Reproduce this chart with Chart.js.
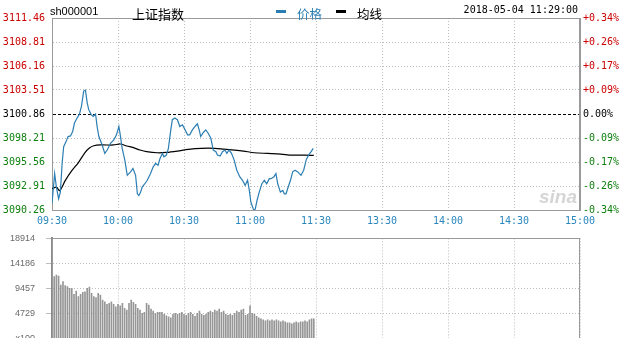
<!DOCTYPE html>
<html>
<head>
<meta charset="utf-8">
<script src="https://cdn.jsdelivr.net/npm/chart.js@4.4.1/dist/chart.umd.min.js"></script>
<style>
  html, body { margin: 0; padding: 0; background: #fff; }
  #wrap { position: relative; width: 626px; height: 338px; overflow: hidden; background: #fff; }
  #wrap canvas { position: absolute; left: 0; }
  #price { top: 0; }
  #vol { top: 222px; }
  .hd { position: absolute; white-space: nowrap; height: 14px; line-height: 14px; }
  .dash { position: absolute; height: 3px; width: 10px; }
</style>
</head>
<body>
<div id="wrap">
  <canvas id="price" width="626" height="232" style="width:626px;height:232px"></canvas>
  <canvas id="vol" width="626" height="133" style="width:626px;height:133px"></canvas>

  <div class="hd" style="left:50px;top:5px;font:11px 'Liberation Sans',Arial,sans-serif;color:#000">sh000001</div>
  <div class="hd" style="left:132px;top:4px;font:13px 'Noto Sans CJK SC',sans-serif;color:#000">上证指数</div>
  <div class="dash" style="left:276px;top:10px;background:#2b7eb3"></div>
  <div class="hd" style="left:297px;top:4px;font:12.5px 'Noto Sans CJK SC',sans-serif;color:#2b7eb3">价格</div>
  <div class="dash" style="left:336px;top:10px;background:#000"></div>
  <div class="hd" style="left:357px;top:4px;font:12.5px 'Noto Sans CJK SC',sans-serif;color:#000">均线</div>
  <div class="hd" style="right:48px;top:4px;font:10px 'DejaVu Sans Mono',monospace;color:#000">2018-05-04 11:29:00</div>
</div>

<script>
// Session axis: minutes of trading since 09:30 (lunch break removed), 0..240
const timeLabels = ['09:30', '10:00', '10:30', '11:00', '11:30', '13:30', '14:00', '14:30', '15:00'];

// Index level scale (previous close in the middle) and the matching % change labels
const prevClose = 3100.86;
const priceTicks = [3090.26, 3092.91, 3095.56, 3098.21, 3100.86, 3103.51, 3106.16, 3108.81, 3111.46];
const pctLabels = ['-0.34%', '-0.26%', '-0.17%', '-0.09%', '0.00%', '+0.09%', '+0.17%', '+0.26%', '+0.34%'];

// Intraday index level
const priceMinutes = [
  0, 1.2, 2.0, 3.0, 3.8, 4.6, 5.3, 6.4, 7.3, 8.4,
  9.4, 10.2, 11.4, 12.5, 13.4, 14.4, 15.2, 16.0, 16.7, 17.8,
  18.7, 19.8, 20.5, 21.3, 22.8, 24.0, 25.1, 26.6, 28.1, 29.3,
  30.4, 30.9, 31.9, 33.1, 34.2, 35.7, 36.8, 38.0, 38.8, 39.5,
  40.3, 41.0, 42.2, 43.3, 44.8, 46.0, 47.1, 48.2, 49.1, 50.2,
  50.9, 52.0, 52.9, 54.0, 54.7, 55.8, 57.0, 58.1, 59.3, 60.5,
  61.6, 62.6, 63.8, 65.0, 66.1, 66.9, 67.6, 68.8, 69.9, 71.0,
  72.2, 73.3, 74.5, 75.2, 76.4, 77.5, 78.6, 79.5, 80.5, 81.6,
  82.8, 84.0, 85.4, 86.6, 87.8, 88.9, 89.7, 90.4, 91.5, 91.9,
  92.4, 93.2, 94.2, 95.4, 96.5, 97.6, 98.8, 99.5, 100.8, 101.8,
  102.6, 103.8, 104.9, 105.6, 106.4, 107.1, 108.4, 109.4, 110.5, 111.7,
  113.2, 114.4, 115.5, 116.6, 117.8, 118.7
];
const priceValues = [
  3091.01, 3094.28, 3092.79, 3091.49, 3092.24, 3095.40, 3097.25, 3097.81, 3098.37, 3098.44,
  3098.93, 3099.86, 3100.41, 3100.86, 3101.72, 3103.39, 3103.50, 3102.09, 3101.34, 3100.79,
  3100.60, 3100.86, 3099.48, 3098.37, 3097.44, 3096.51, 3096.88, 3097.63, 3098.00, 3098.56,
  3099.48, 3098.74, 3097.07, 3095.77, 3094.09, 3094.47, 3094.84, 3094.09, 3092.05, 3091.86,
  3092.24, 3092.79, 3093.16, 3093.54, 3094.28, 3095.02, 3095.40, 3095.21, 3095.95, 3096.51,
  3096.14, 3096.32, 3097.07, 3099.11, 3100.23, 3100.41, 3100.23, 3099.48, 3099.67, 3099.11,
  3098.56, 3098.56, 3099.11, 3099.48, 3099.78, 3099.11, 3098.37, 3098.82, 3099.11, 3098.74,
  3098.18, 3096.88, 3096.70, 3096.32, 3096.21, 3096.70, 3096.88, 3096.51, 3096.88, 3096.51,
  3095.77, 3094.65, 3093.91, 3093.54, 3092.98, 3093.54, 3092.42, 3091.12, 3090.38, 3090.19,
  3090.38, 3091.31, 3092.24, 3093.16, 3093.54, 3093.16, 3093.72, 3093.72, 3093.91, 3094.28,
  3093.16, 3092.24, 3092.42, 3092.05, 3092.05, 3092.61, 3093.54, 3094.47, 3094.65, 3094.47,
  3094.09, 3094.65, 3095.77, 3096.32, 3096.70, 3097.07
];

// Running average price
const avgMinutes = [0, 2, 3.5, 6, 9, 12, 15, 17, 19, 22, 28, 31, 34, 37, 40, 43, 48, 52, 57, 62, 68, 74, 78, 83, 87, 92, 98, 104, 109, 115, 119];
const avgValues = [
  3092.60, 3092.78, 3092.41, 3093.50, 3094.60, 3095.50, 3096.60, 3097.10, 3097.35, 3097.44,
  3097.44, 3097.55, 3097.33, 3097.14, 3096.88, 3096.70, 3096.58, 3096.62, 3096.77, 3096.96,
  3097.07, 3097.07, 3096.99, 3096.88, 3096.77, 3096.58, 3096.51, 3096.44, 3096.32, 3096.32,
  3096.29
];

// Per-minute volume (hands x100), from 09:31 to 11:29
const volTicks = [0, 4729, 9457, 14186, 18914];
const volumeValues = [
  11690, 12010, 11820, 10120, 10740, 9990, 9800, 9500, 9500, 8360,
  8980, 7910, 8360, 8740, 8850, 9500, 9740, 8550, 7910, 7720,
  8550, 8230, 7280, 6960, 6470, 6660, 6960, 6470, 6010, 6470,
  6200, 6660, 5710, 5390, 6660, 7280, 6850, 6470, 5710, 5390,
  4770, 4960, 6660, 6340, 5580, 5200, 4770, 4960, 4960, 4960,
  4580, 4310, 4120, 3930, 4580, 4770,
  4580, 4770, 4960, 4580, 4400, 4770, 4960, 4580, 4200, 4770,
  5200, 4580, 4400, 4580, 4960, 5200, 4960, 5390, 5200, 5580,
  4960, 5200, 4580, 4400, 4580, 4400, 4770, 5200, 4960, 5390,
  5580, 4400, 4580, 6200, 4770, 4580, 4200, 3930, 3740, 3550,
  3360, 3550, 3360, 3550, 3360, 3550, 3360, 3170, 3360, 3170,
  2980, 2980, 2790, 2980, 3170, 2980, 3170, 3170, 3360, 3170,
  3550, 3740, 3740
];

const MONO = "'DejaVu Sans Mono', monospace";
const NARROW = "'Liberation Sans Narrow', 'Liberation Sans', Arial, sans-serif";
const BLUE = '#2b7eb3';
const AXIS_BLUE = '#2a86bd';
const UP = '#cc0000';
const DOWN = '#108010';
const GRID = '#bdbdbd';
const FRAME = '#9a9a9a';

const sessionTicks = s => { s.ticks = timeLabels.map((_, i) => ({ value: i * 30 })); };
const levelColor = v => v > prevClose + 0.001 ? UP : (v < prevClose - 0.001 ? DOWN : '#000');
const isBase = ctx => ctx.tick && Math.abs(ctx.tick.value - prevClose) < 0.001;
const dotted = ctx => ctx.tick ? [1, 2] : [];

// Gray frame around the plot area
const frame = {
  id: 'frame',
  beforeDatasetsDraw(chart) {
    const a = chart.chartArea, c = chart.ctx;
    c.save();
    c.strokeStyle = FRAME;
    c.lineWidth = 1;
    c.strokeRect(Math.round(a.left) + 0.5, Math.round(a.top) + 0.5,
                 Math.round(a.right - a.left) - 1, Math.round(a.bottom - a.top));
    c.restore();
  }
};

const watermark = {
  id: 'watermark',
  beforeDatasetsDraw(chart) {
    const a = chart.chartArea, c = chart.ctx;
    c.save();
    c.font = "italic bold 19px 'Liberation Sans', Arial, sans-serif";
    c.fillStyle = 'rgba(150,150,150,0.4)';
    c.textAlign = 'right';
    c.textBaseline = 'alphabetic';
    c.fillText('sina', a.right - 3, a.bottom - 7);
    c.restore();
  }
};

new Chart(document.getElementById('price'), {
  type: 'line',
  data: {
    datasets: [
      {
        label: '价格',
        data: priceMinutes.map((m, i) => ({ x: m, y: priceValues[i] })),
        borderColor: BLUE, borderWidth: 1.2, pointRadius: 0, tension: 0, yAxisID: 'y'
      },
      {
        label: '均线',
        data: avgMinutes.map((m, i) => ({ x: m, y: avgValues[i] })),
        borderColor: '#000', borderWidth: 1.2, pointRadius: 0, tension: 0.3, yAxisID: 'y'
      }
    ]
  },
  options: {
    responsive: false, animation: false, devicePixelRatio: 1,
    layout: { padding: { top: 18, left: 0, right: 0, bottom: 0 } },
    plugins: { legend: { display: false }, tooltip: { enabled: false } },
    scales: {
      x: {
        type: 'linear', min: 0, max: 240,
        afterBuildTicks: sessionTicks,
        afterFit: s => { s.height = 22; },
        ticks: {
          autoSkip: false, maxRotation: 0, padding: 5, color: AXIS_BLUE,
          font: { family: MONO, size: 10 },
          callback: (v, i) => timeLabels[i]
        },
        grid: { color: GRID, drawTicks: false },
        border: { color: FRAME, dash: dotted }
      },
      y: {
        position: 'left', min: priceTicks[0], max: priceTicks[priceTicks.length - 1],
        afterBuildTicks: s => { s.ticks = priceTicks.map(v => ({ value: v })); },
        afterFit: s => { s.width = 52; },
        ticks: {
          padding: 7, font: { family: MONO, size: 10 },
          color: ctx => levelColor(ctx.tick.value),
          callback: v => v.toFixed(2)
        },
        grid: { color: ctx => isBase(ctx) ? '#000' : GRID, drawTicks: false },
        border: { color: FRAME, dash: ctx => ctx.tick ? (isBase(ctx) ? [3, 2] : [1, 2]) : [] }
      },
      y2: {
        position: 'right', min: priceTicks[0], max: priceTicks[priceTicks.length - 1],
        afterBuildTicks: s => { s.ticks = priceTicks.map(v => ({ value: v })); },
        afterFit: s => { s.width = 46; },
        ticks: {
          padding: 3, font: { family: MONO, size: 10 },
          color: ctx => levelColor(ctx.tick.value),
          callback: (v, i) => pctLabels[i]
        },
        grid: { drawOnChartArea: false, drawTicks: false },
        border: { color: FRAME }
      }
    }
  },
  plugins: [frame, watermark]
});

// Volume panel: the y tick labels' own padding (half line + 11px) sets the plot's top and bottom inset
new Chart(document.getElementById('vol'), {
  type: 'bar',
  data: {
    datasets: [{
      data: volumeValues.map((v, i) => ({ x: i + 1, y: v })),
      backgroundColor: '#969696', borderWidth: 0, barThickness: 1
    }]
  },
  options: {
    responsive: false, animation: false, devicePixelRatio: 1,
    layout: { padding: { top: 0, left: 0, right: 46, bottom: 0 } },
    plugins: { legend: { display: false }, tooltip: { enabled: false } },
    scales: {
      x: {
        type: 'linear', min: 0, max: 240, offset: false,
        afterBuildTicks: sessionTicks,
        afterFit: s => { s.height = 0; },
        ticks: { display: false },
        grid: { color: GRID, drawTicks: false, offset: false },
        border: { display: true, color: 'rgba(0,0,0,0)', dash: dotted }
      },
      y: {
        min: 0, max: volTicks[volTicks.length - 1],
        afterBuildTicks: s => { s.ticks = volTicks.map(v => ({ value: v })); },
        afterFit: s => { s.width = 52; },
        ticks: {
          padding: 11, color: '#6a6a6a', font: { family: NARROW, size: 9 },
          callback: v => v === 0 ? 'x100' : String(v)
        },
        grid: { color: GRID, drawTicks: true, tickLength: 6 },
        border: { color: '#8a8a8a', width: 2, dash: dotted }
      }
    }
  },
  plugins: [frame]
});
</script>
</body>
</html>
